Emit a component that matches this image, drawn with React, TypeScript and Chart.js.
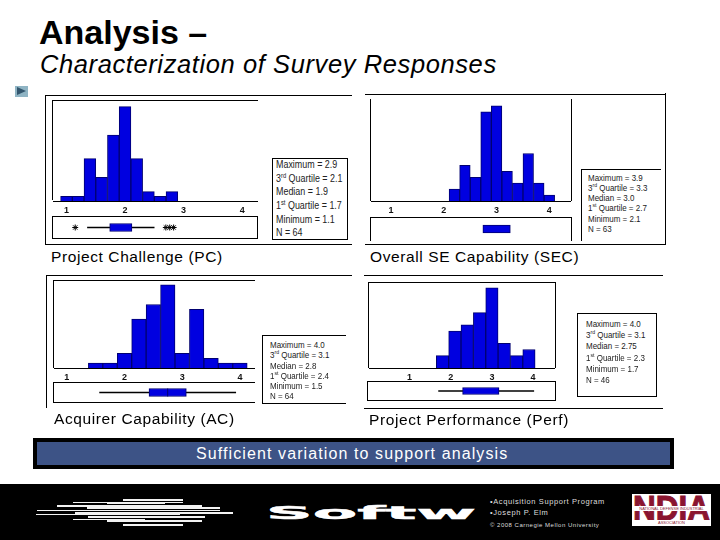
import React, { useEffect, useRef } from "react";
import { Chart, registerables } from "chart.js";

Chart.register(...registerables);

const axisTicks = [1, 2, 3, 4];

const pcBins = [1.0, 1.2, 1.4, 1.6, 1.8, 2.0, 2.2, 2.4, 2.6, 2.8];
const pcCounts = [1, 1, 9, 5, 14, 20, 9, 2, 1, 2];
const pcBox = { min: 1.3, q1: 1.7, median: 1.9, q3: 2.1, max: 2.5 };
const pcOutliers = [1.08, 2.71, 2.78, 2.85];
const pcStats = ["Maximum = 2.9", "3rd Quartile = 2.1", "Median = 1.9", "1st Quartile = 1.7", "Minimum = 1.1", "N = 64"];

const secBins = [2.2, 2.4, 2.6, 2.8, 3.0, 3.2, 3.4, 3.6, 3.8, 4.0];
const secCounts = [2, 6, 4, 15, 16, 5, 3, 8, 3, 1];
const secBox = { q1: 2.74, median: 3.0, q3: 3.26 };
const secStats = ["Maximum = 3.9", "3rd Quartile = 3.3", "Median = 3.0", "1st Quartile = 2.7", "Minimum = 2.1", "N = 63"];

const acBins = [1.5, 1.75, 2.0, 2.25, 2.5, 2.75, 3.0, 3.25, 3.5, 3.75, 4.0];
const acCounts = [1, 1, 3, 10, 13, 17, 3, 12, 2, 1, 1];
const acBox = { min: 1.52, q1: 2.42, median: 2.76, q3: 3.1, max: 4.0 };
const acStats = ["Maximum = 4.0", "3rd Quartile = 3.1", "Median = 2.8", "1st Quartile = 2.4", "Minimum = 1.5", "N = 64"];

const perfBins = [1.8, 2.1, 2.4, 2.7, 3.0, 3.3, 3.6, 3.9];
const perfCounts = [2, 6, 7, 9, 13, 4, 2, 3];
const perfBox = { min: 1.72, q1: 2.3, median: 2.75, q3: 3.18, max: 4.02 };
const perfStats = ["Maximum = 4.0", "3rd Quartile = 3.1", "Median = 2.75", "1st Quartile = 2.3", "Minimum = 1.7", "N = 46"];

const footerLines = ["•Acquisition Support Program", "•Joseph P. Elm", "© 2008 Carnegie Mellon University"];

const SANS = '"Liberation Sans", Arial, sans-serif';
const BAR = "#0000e0";
const EDGE = "#000070";

function Histogram({ l, t, w, h, xMin, xMax, yMax, bins, counts }: any) {
  const ref = useRef<HTMLCanvasElement>(null);
  useEffect(() => {
    const chart = new Chart(ref.current!, {
      type: "bar",
      data: {
        datasets: [
          {
            data: bins.map((b: number, i: number) => ({ x: b, y: counts[i] })),
            backgroundColor: BAR,
            borderColor: EDGE,
            borderWidth: 1,
            barPercentage: 1,
            categoryPercentage: 1,
          },
        ],
      },
      options: {
        animation: false,
        responsive: false,
        devicePixelRatio: 1,
        layout: { padding: 0 },
        plugins: { legend: { display: false }, tooltip: { enabled: false } },
        scales: {
          x: {
            type: "linear",
            min: xMin,
            max: xMax,
            offset: false,
            afterBuildTicks: (s: any) => {
              s.ticks = axisTicks.map((v) => ({ value: v }));
            },
            afterFit: (s: any) => {
              s.height = 15;
              s.paddingLeft = 0;
              s.paddingRight = 0;
            },
            grid: { display: false, drawTicks: false },
            border: { display: true, color: "#000", width: 1 },
            ticks: {
              autoSkip: false,
              maxRotation: 0,
              padding: 4,
              color: "#111",
              font: { family: SANS, size: 9, weight: "bold" },
              callback: (v: any) => String(v),
            },
          },
          y: { display: false, min: 0, max: yMax },
        },
      },
    } as any);
    return () => chart.destroy();
  }, []);
  return <canvas ref={ref} width={w} height={h + 15} style={{ position: "absolute", left: l, top: t, width: w, height: h + 15 }} />;
}

function BoxPlot({ l, t, w, h, xMin, xMax, box, outliers, thick, showMedian }: any) {
  const ref = useRef<HTMLCanvasElement>(null);
  useEffect(() => {
    const datasets: any[] = [];
    if (showMedian) {
      datasets.push({
        type: "scatter",
        data: [{ x: box.median, y: "box" }],
        pointStyle: "line",
        rotation: 90,
        radius: thick / 2,
        borderColor: EDGE,
        borderWidth: 1,
        order: 0,
      });
    }
    if (outliers) {
      datasets.push({
        type: "scatter",
        data: outliers.map((v: number) => ({ x: v, y: "box" })),
        pointStyle: "star",
        radius: 3,
        borderColor: "#000",
        borderWidth: 1,
        order: 0,
      });
    }
    datasets.push({
      type: "bar",
      data: [[box.q1, box.q3]],
      backgroundColor: BAR,
      borderColor: EDGE,
      borderWidth: 1,
      borderSkipped: false,
      barThickness: thick,
      grouped: false,
      order: 1,
    });
    if (box.min !== undefined) {
      datasets.push({
        type: "bar",
        data: [[box.min, box.max]],
        backgroundColor: "#000",
        barThickness: 1,
        grouped: false,
        order: 2,
      });
    }
    const chart = new Chart(ref.current!, {
      type: "bar",
      data: { labels: ["box"], datasets },
      options: {
        indexAxis: "y",
        animation: false,
        responsive: false,
        devicePixelRatio: 1,
        layout: { padding: 0 },
        plugins: { legend: { display: false }, tooltip: { enabled: false } },
        scales: {
          x: { type: "linear", display: false, min: xMin, max: xMax },
          y: { type: "category", display: false },
        },
      },
    } as any);
    return () => chart.destroy();
  }, []);
  return <canvas ref={ref} width={w} height={h} style={{ position: "absolute", left: l, top: t, width: w, height: h }} />;
}

const Rule = ({ x, y, w = 1, h = 1, c = "#000" }: any) => (
  <div style={{ position: "absolute", left: x, top: y, width: w, height: h, background: c }} />
);

const Label = ({ x, y, size, children, style }: any) => (
  <div style={{ position: "absolute", left: x, top: y, fontFamily: SANS, fontSize: size, lineHeight: 1, whiteSpace: "nowrap", color: "#000", ...style }}>
    {children}
  </div>
);

function StatLine({ text }: { text: string }) {
  const m = text.match(/^(\d)(rd|st)( .*)$/);
  if (!m) return <>{text}</>;
  return (
    <>
      {m[1]}
      <sup style={{ fontSize: "0.65em", lineHeight: 0 }}>{m[2]}</sup>
      {m[3]}
    </>
  );
}

function Stats({ x, ys, size, lines, squeeze }: any) {
  return (
    <>
      {lines.map((s: string, i: number) => (
        <Label key={i} x={x} y={ys[i] - size / 2} size={size} style={{ color: "#222", transform: `scaleX(${squeeze})`, transformOrigin: "left top" }}>
          <StatLine text={s} />
        </Label>
      ))}
    </>
  );
}

const stripes: number[][] = [
  [123, 183, 499, 2],
  [73, 183, 502, 1],
  [107, 165, 502, 2],
  [57, 202, 505, 2],
  [87, 220, 507, 2],
  [37, 220, 510, 1],
  [75, 233, 512, 2],
  [36, 180, 514, 1],
  [88, 205, 516, 2],
  [73, 145, 519, 1],
  [107, 202, 520, 2],
  [123, 183, 524, 2],
];

export default function App() {
  return (
    <div style={{ position: "absolute", left: 0, top: 0, width: 720, height: 540, background: "#fff", overflow: "hidden" }}>
      <Label x={39} y={15} size={34} style={{ fontWeight: "bold" }}>Analysis –</Label>
      <Label x={40} y={52} size={25.5} style={{ fontStyle: "italic", letterSpacing: 0.6 }}>Characterization of Survey Responses</Label>
      <div style={{ position: "absolute", left: 15, top: 86, width: 13, height: 11, background: "#8fb4c4" }}>
        <div style={{ position: "absolute", left: 2, top: 1, width: 0, height: 0, borderTop: "4.5px solid transparent", borderBottom: "4.5px solid transparent", borderLeft: "9px solid #33566e" }} />
      </div>

      {/* PC panel */}
      <Rule x={45} y={95} w={307} />
      <Rule x={45} y={95} h={150} />
      <Rule x={45} y={244} w={307} />
      <Rule x={52} y={100} w={206} />
      <Rule x={52} y={100} h={100} />
      <Histogram l={53} t={101} w={205} h={100} xMin={0.77} xMax={4.27} yMax={21.2} bins={pcBins} counts={pcCounts} />
      <Rule x={52} y={216} w={206} />
      <Rule x={52} y={238} w={206} />
      <Rule x={52} y={216} h={23} />
      <Rule x={257} y={216} h={23} />
      <BoxPlot l={53} t={217} w={204} h={21} xMin={0.77} xMax={4.26} box={pcBox} outliers={pcOutliers} thick={8} />
      <div style={{ position: "absolute", left: 272, top: 158, width: 74, height: 80, border: "1px solid #000" }} />
      <Stats x={276} ys={[164, 178, 191.5, 205.5, 219, 232]} size={10.5} squeeze={0.85} lines={pcStats} />
      <Label x={51} y={249} size={15.5} style={{ letterSpacing: 0.6 }}>Project Challenge (PC)</Label>

      {/* SEC panel */}
      <Rule x={365} y={94} w={301} />
      <Rule x={665} y={93} h={152} />
      <Rule x={365} y={244} w={301} />
      <Rule x={370} y={99} h={102} />
      <Rule x={571} y={99} h={102} />
      <Histogram l={371} t={100} w={200} h={101} xMin={0.62} xMax={4.41} yMax={17} bins={secBins} counts={secCounts} />
      <Rule x={370} y={217} w={202} />
      <Rule x={370} y={217} h={24} />
      <Rule x={571} y={217} h={24} />
      <BoxPlot l={371} t={218} w={200} h={22} xMin={0.62} xMax={4.41} box={secBox} thick={8} />
      <Rule x={581} y={169} w={80} />
      <Rule x={581} y={169} h={72} />
      <Stats x={588} ys={[177.5, 188, 198, 207.5, 218.5, 229]} size={9.5} squeeze={0.84} lines={secStats} />
      <Label x={370} y={249} size={15.5} style={{ letterSpacing: 0.6 }}>Overall SE Capability (SEC)</Label>

      {/* AC panel */}
      <Rule x={46} y={275} w={306} />
      <Rule x={46} y={275} h={133} />
      <Rule x={53} y={280} w={202} />
      <Rule x={53} y={280} h={88} />
      <Histogram l={54} t={281} w={201} h={87} xMin={0.78} xMax={4.26} yMax={17.8} bins={acBins} counts={acCounts} />
      <Rule x={53} y={382} w={202} />
      <Rule x={53} y={402} w={202} />
      <Rule x={53} y={382} h={21} />
      <BoxPlot l={54} t={383} w={201} h={19} xMin={0.78} xMax={4.26} box={acBox} thick={8} showMedian />
      <Rule x={262} y={335} w={84} />
      <Rule x={262} y={403} w={84} />
      <Rule x={262} y={335} h={69} />
      <Stats x={270} ys={[344.5, 355, 365.5, 376, 386, 396]} size={9.5} squeeze={0.84} lines={acStats} />
      <Label x={54} y={411} size={15.5} style={{ letterSpacing: 0.6 }}>Acquirer Capability (AC)</Label>

      {/* Perf panel */}
      <Rule x={364} y={275} w={299} />
      <Rule x={364} y={408} w={299} />
      <Rule x={368} y={282} w={188} />
      <Rule x={368} y={282} h={86} />
      <Rule x={555} y={282} h={86} />
      <Histogram l={369} t={283} w={186} h={85} xMin={1 - 40.7 / 41.3} xMax={4 + 22 / 41.3} yMax={13.8} bins={perfBins} counts={perfCounts} />
      <Rule x={367} y={381} w={189} />
      <Rule x={367} y={400} w={189} />
      <Rule x={367} y={381} h={20} />
      <Rule x={555} y={381} h={20} />
      <BoxPlot l={368} t={382} w={187} h={18} xMin={1 - 40.7 / 41.3} xMax={4 + 22 / 41.3} box={perfBox} thick={7} />
      <div style={{ position: "absolute", left: 577, top: 313, width: 78, height: 82, border: "1px solid #000" }} />
      <Stats x={586} ys={[323.5, 335, 345.5, 357.5, 369, 380]} size={9.5} squeeze={0.84} lines={perfStats} />
      <Label x={369} y={412} size={15.5} style={{ letterSpacing: 0.6 }}>Project Performance (Perf)</Label>

      {/* banner */}
      <div style={{ position: "absolute", left: 33, top: 438, width: 641, height: 31, background: "#000" }} />
      <div style={{ position: "absolute", left: 37, top: 442, width: 633, height: 23, background: "#3d5386" }} />
      <Label x={196} y={446} size={16} style={{ color: "#fff", letterSpacing: 1.1 }}>Sufficient variation to support analysis</Label>

      {/* footer */}
      <div style={{ position: "absolute", left: 0, top: 484, width: 720, height: 56, background: "#000" }} />
      {stripes.map(([a, b, y, h], i) => (
        <Rule key={i} x={a} y={y} w={b - a} h={h} c="#f2f2f2" />
      ))}
      <Label x={266} y={504} size={18} style={{ color: "#fff", fontFamily: '"DejaVu Sans", sans-serif', fontWeight: "bold", transform: "scaleX(3.6)", transformOrigin: "left top", WebkitTextStroke: "0.4px #fff" }}>Softw</Label>
      <Label x={490} y={498} size={7.5} style={{ color: "#ddd", letterSpacing: 0.6 }}>{footerLines[0]}</Label>
      <Label x={490} y={509} size={7.5} style={{ color: "#ddd", letterSpacing: 0.6 }}>{footerLines[1]}</Label>
      <Label x={490} y={522} size={6} style={{ color: "#ddd", letterSpacing: 0.5 }}>{footerLines[2]}</Label>
      <div style={{ position: "absolute", left: 632, top: 494, width: 79, height: 32, background: "#fff", overflow: "hidden" }}>
        <Label x={1} y={-4} size={35} style={{ color: "#8a1530", fontWeight: 900, transform: "scaleX(0.9)", transformOrigin: "left top", WebkitTextStroke: "1px #8a1530" }}>NDIA</Label>
        <div style={{ position: "absolute", left: 1, top: 12, width: 77, height: 5, background: "#fff", color: "#8a1530", fontFamily: SANS, fontSize: 4, lineHeight: "5px", whiteSpace: "nowrap", overflow: "hidden", textAlign: "center" }}>NATIONAL DEFENSE INDUSTRIAL</div>
        <div style={{ position: "absolute", left: 0, top: 26, width: 79, height: 6, background: "#fff", color: "#8a1530", fontFamily: SANS, fontSize: 4, lineHeight: "6px", whiteSpace: "nowrap", overflow: "hidden", textAlign: "center" }}>ASSOCIATION</div>
      </div>
    </div>
  );
}
